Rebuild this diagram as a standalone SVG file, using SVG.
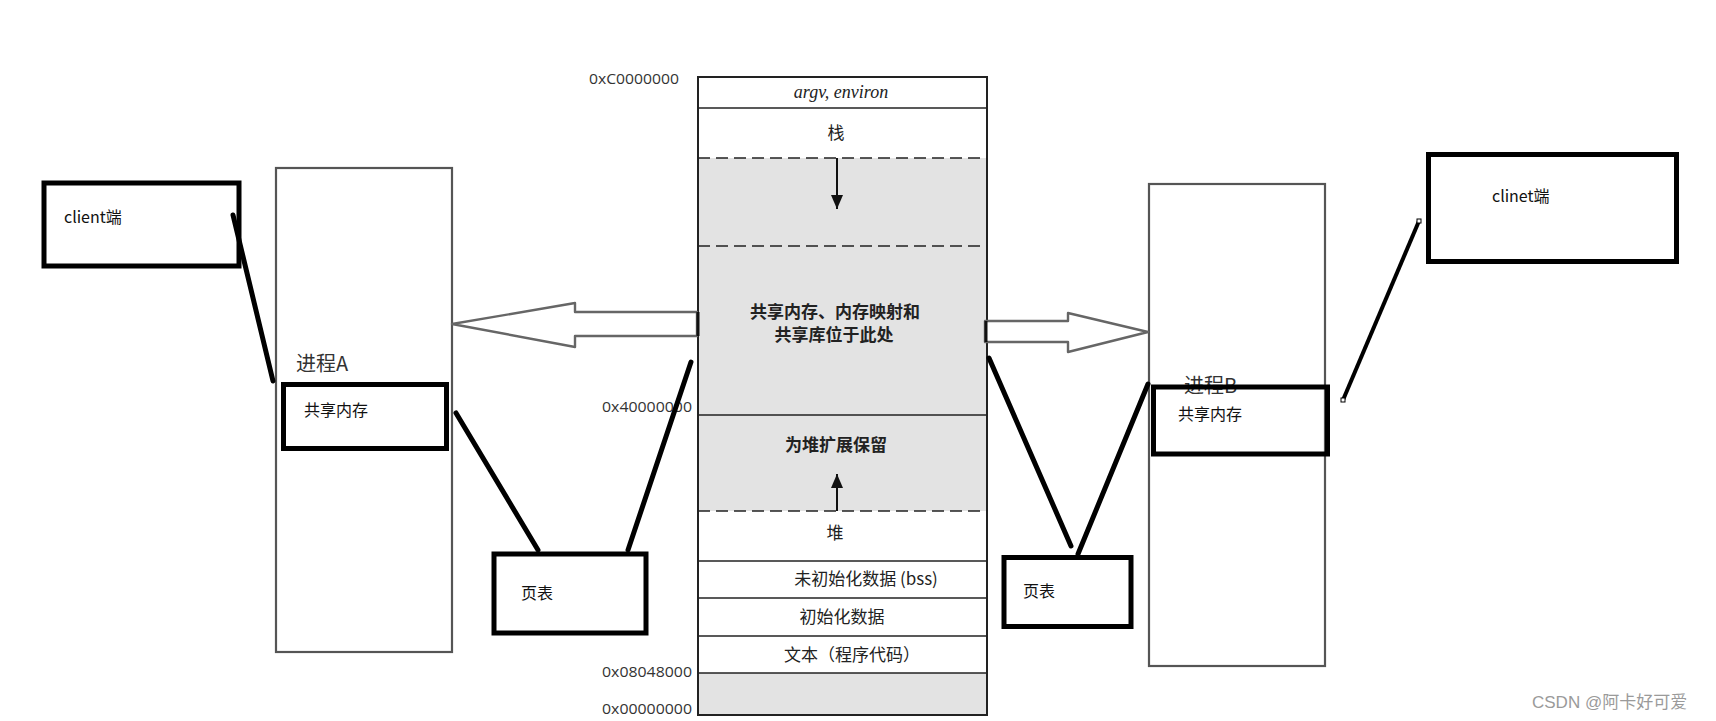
<svg xmlns="http://www.w3.org/2000/svg" width="1716" height="721" viewBox="0 0 1716 721">
  <defs>
    <style>
      .box { fill: none; stroke: #000; stroke-width: 5; }
      .proc { fill: #fff; stroke: #555; stroke-width: 2.2; }
      .link { stroke: #000; stroke-width: 5; stroke-linecap: round; fill: none; }
      .seg { stroke: #222; stroke-width: 1.6; }
      .dash { stroke: #222; stroke-width: 1.6; stroke-dasharray: 12 6; }
      .gray { fill: #e3e3e3; }
      .addr { font-family: "Open Sans", "Liberation Sans", sans-serif; font-size: 14px; fill: #333; }
      .mem { font-family: "Noto Sans CJK SC", "Liberation Serif", serif; font-size: 17px; fill: #222; text-anchor: middle; }
      .memb { font-family: "Noto Sans CJK SC", "Liberation Serif", serif; font-size: 17px; fill: #222; text-anchor: middle; font-weight: bold; }
      .lbl { font-family: "Noto Sans CJK SC", "Liberation Sans", sans-serif; font-size: 16px; fill: #111; }
      .ttl { font-family: "Noto Sans CJK SC", "Liberation Serif", serif; font-size: 20px; fill: #333; }
      .bigarrow { fill: #fff; stroke: #666; stroke-width: 2.4; stroke-linejoin: round; }
      .handle { fill: #fff; stroke: #000; stroke-width: 1; }
    </style>
    <marker id="ah" viewBox="0 0 14 12" refX="14" refY="6" markerWidth="14" markerHeight="12" markerUnits="userSpaceOnUse" orient="auto">
      <path d="M0,0 L14,6 L0,12 Z" fill="#111"/>
    </marker>
  </defs>

  <rect width="1716" height="721" fill="#fff"/>

  <!-- Central memory layout -->
  <g id="memory-layout">
    <rect x="698" y="77" width="289" height="638" fill="#fff"/>
    <rect class="gray" x="698" y="158" width="289" height="353"/>
    <rect class="gray" x="698" y="673" width="289" height="42"/>
    <rect x="698" y="77" width="289" height="638" fill="none" stroke="#222" stroke-width="2"/>
    <line class="seg" x1="698" y1="108" x2="987" y2="108"/>
    <line class="dash" x1="698" y1="158" x2="987" y2="158"/>
    <line class="dash" x1="698" y1="246" x2="987" y2="246"/>
    <line class="seg" x1="698" y1="415" x2="987" y2="415"/>
    <line class="dash" x1="698" y1="511" x2="987" y2="511"/>
    <line class="seg" x1="698" y1="561" x2="987" y2="561"/>
    <line class="seg" x1="698" y1="598" x2="987" y2="598"/>
    <line class="seg" x1="698" y1="636" x2="987" y2="636"/>
    <line class="seg" x1="698" y1="673" x2="987" y2="673"/>
    <line x1="837" y1="158" x2="837" y2="209" stroke="#111" stroke-width="2" marker-end="url(#ah)"/>
    <line x1="837" y1="511" x2="837" y2="474" stroke="#111" stroke-width="2" marker-end="url(#ah)"/>
    <text x="841" y="98" text-anchor="middle" font-family="Liberation Serif, serif" font-style="italic" font-size="18" fill="#222">argv, environ</text>
    <text class="mem" x="836" y="139">栈</text>
    <text class="memb" x="835" y="318">共享内存、内存映射和</text>
    <text class="memb" x="834" y="341">共享库位于此处</text>
    <text class="memb" x="836" y="451">为堆扩展保留</text>
    <text class="mem" x="835" y="539">堆</text>
    <text class="mem" x="866" y="585">未初始化数据 (bss)</text>
    <text class="mem" x="842" y="623">初始化数据</text>
    <text class="mem" x="852" y="661">文本（程序代码）</text>
    <text class="addr" x="589" y="84" textLength="90" lengthAdjust="spacingAndGlyphs">0xC0000000</text>
    <text class="addr" x="602" y="412" textLength="90" lengthAdjust="spacingAndGlyphs">0x40000000</text>
    <text class="addr" x="602" y="677" textLength="90" lengthAdjust="spacingAndGlyphs">0x08048000</text>
    <text class="addr" x="602" y="714" textLength="90" lengthAdjust="spacingAndGlyphs">0x00000000</text>
  </g>

  <!-- Process A -->
  <g id="process-A">
    <rect class="proc" x="276" y="168" width="176" height="484"/>
    <text class="ttl" x="296" y="371">进程A</text>
  </g>
  <g id="shm-A">
    <rect class="box" x="283.5" y="384.5" width="163" height="64" fill="#fff"/>
    <text class="lbl" x="304" y="416">共享内存</text>
  </g>
  <g id="client-A">
    <rect class="box" x="44" y="183" width="195" height="83" fill="#fff"/>
    <text class="lbl" x="64" y="223" font-size="17">client端</text>
  </g>
  <g id="pagetable-A">
    <rect class="box" x="494" y="554" width="152" height="79" fill="#fff"/>
    <text class="lbl" x="521" y="599" font-size="17">页表</text>
  </g>

  <!-- Process B -->
  <g id="process-B">
    <rect class="proc" x="1149" y="184" width="176" height="482"/>
    <text class="ttl" x="1184" y="393">进程B</text>
  </g>
  <g id="shm-B">
    <rect class="box" x="1153.5" y="387" width="174" height="67" fill="none"/>
    <text class="lbl" x="1178" y="420">共享内存</text>
  </g>
  <g id="clinet-B">
    <rect class="box" x="1428.5" y="154.5" width="248" height="107" fill="#fff"/>
    <text class="lbl" x="1492" y="202" font-size="17">clinet端</text>
  </g>
  <g id="pagetable-B">
    <rect class="box" x="1004" y="557.5" width="127" height="69" fill="#fff"/>
    <text class="lbl" x="1023" y="597" font-size="17">页表</text>
  </g>

  <!-- Connectors -->
  <g id="connectors">
    <polygon class="bigarrow" points="697,312 575,312 575,303 452,324 575,347 575,336 697,336"/>
    <line x1="698" y1="312" x2="698" y2="336" stroke="#111" stroke-width="3"/>
    <polygon class="bigarrow" points="985,321 1068,321 1068,313 1148,332 1068,352 1068,342 985,342"/>
    <line x1="986" y1="321" x2="986" y2="342" stroke="#111" stroke-width="3"/>
    <line class="link" x1="233" y1="215" x2="273" y2="381"/>
    <line class="link" x1="456" y1="413" x2="538" y2="550"/>
    <line class="link" x1="628" y1="550" x2="691" y2="362"/>
    <line class="link" x1="989" y1="358" x2="1071" y2="546"/>
    <line class="link" x1="1078" y1="554" x2="1148" y2="384"/>
    <line x1="1419" y1="221" x2="1343" y2="400" stroke="#000" stroke-width="4"/>
    <rect class="handle" x="1417" y="219" width="4" height="4"/>
    <rect class="handle" x="1341" y="398" width="4" height="4"/>
  </g>

  <text x="1532" y="708" font-family="Liberation Sans, Noto Sans CJK SC, sans-serif" font-size="17" fill="#9a9a9a">CSDN @阿卡好可爱</text>
</svg>
